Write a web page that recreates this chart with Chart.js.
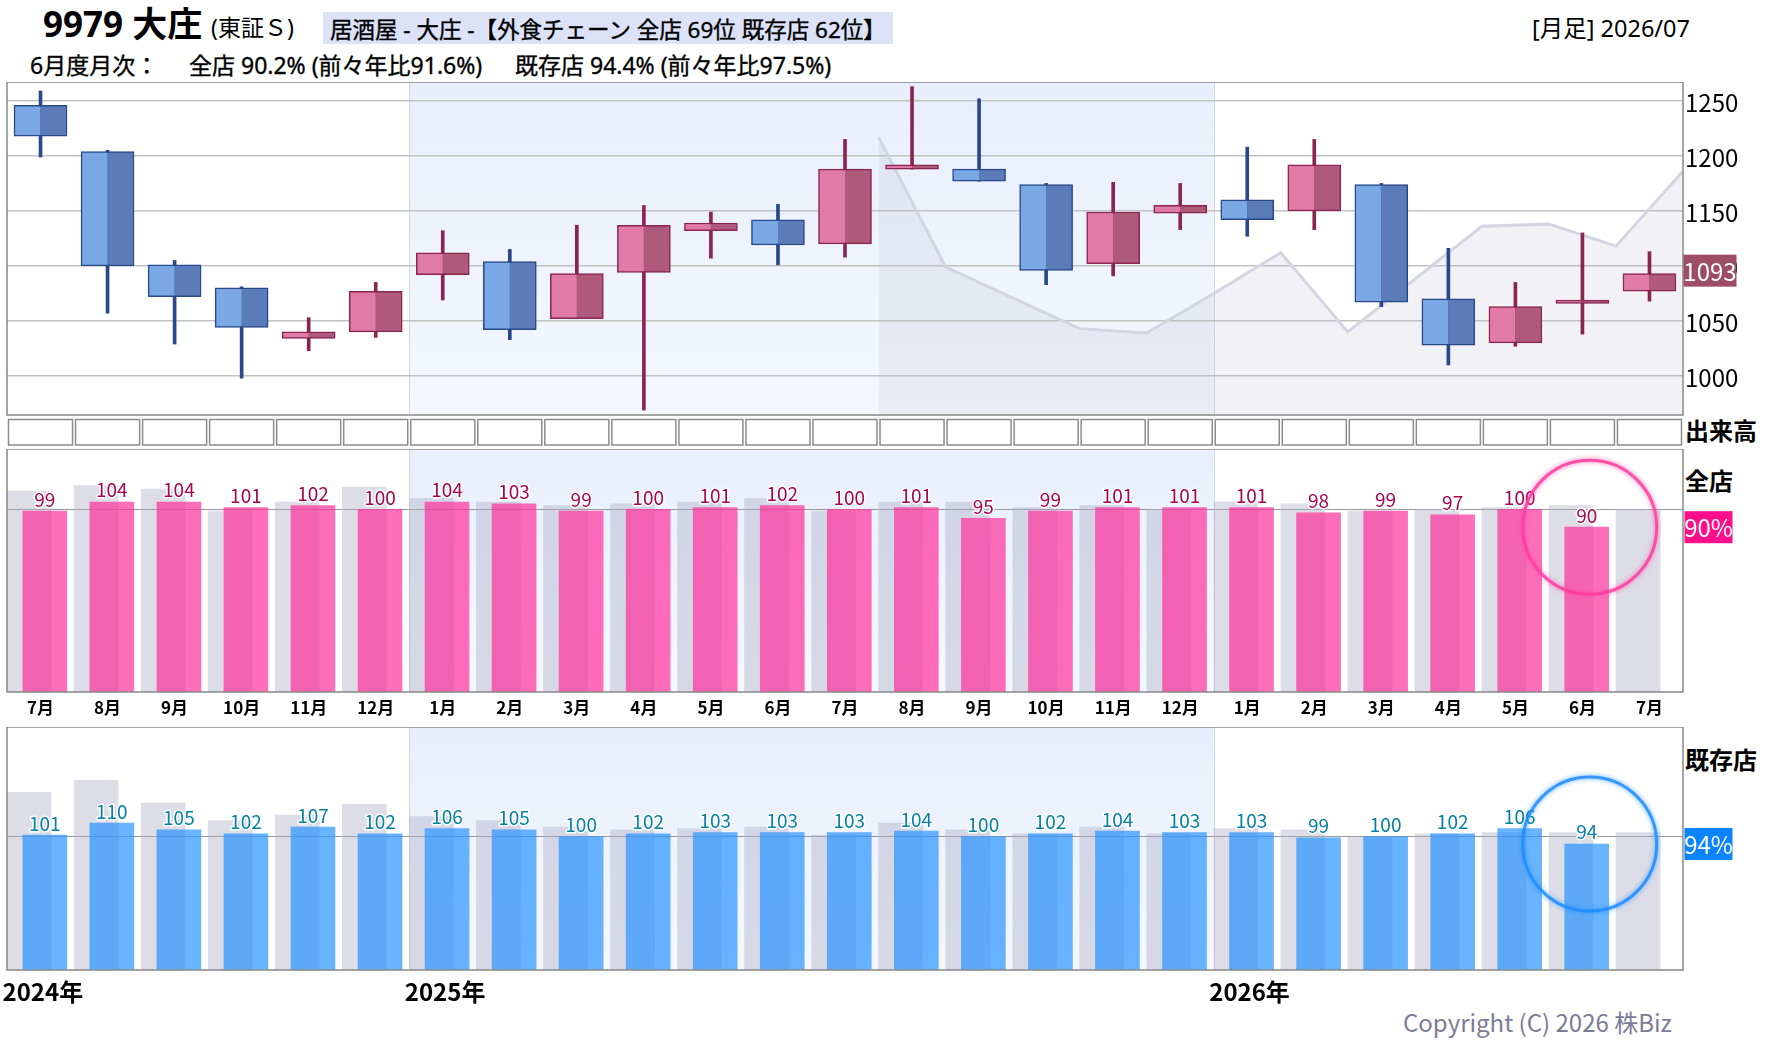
<!DOCTYPE html>
<html lang="ja">
<head>
<meta charset="utf-8">
<title>9979 大庄 月足</title>
<script src="https://cdn.jsdelivr.net/npm/chart.js@4.4.1/dist/chart.umd.min.js"></script>
<style>
  body { margin: 0; width: 1780px; height: 1054px; position: relative; overflow: hidden; background: #fff;
         font-family: "Noto Sans", "Noto Sans CJK JP", sans-serif; color: #000; }
  .t { position: absolute; white-space: nowrap; line-height: 1; }
  .jp { font-family: "Noto Sans CJK JP", sans-serif; }
  .heavy { -webkit-text-stroke: 0.35px #000; }
  canvas { position: absolute; left: 0; }
</style>
</head>
<body>
<div class="t" style="left:43px;top:6px;font-size:35px;font-weight:bold">9979 大庄</div>
<div class="t" style="left:211px;top:16px;font-size:23px">(東証Ｓ)</div>
<div class="t heavy" style="left:323px;top:12px;height:32px;line-height:36px;font-size:22.5px;background:#dce3f9;padding:0 7px">居酒屋 - 大庄 -【外食チェーン 全店 69位 既存店 62位】</div>
<div class="t" style="left:1532px;top:17px;font-size:23.5px">[月足] 2026/07</div>
<div class="t heavy" style="left:30px;top:54px;font-size:23px">6月度月次：</div>
<div class="t heavy" style="left:189px;top:54px;font-size:23px">全店 90.2% (前々年比91.6%)</div>
<div class="t heavy" style="left:515px;top:54px;font-size:23px">既存店 94.4% (前々年比97.5%)</div>
<div class="t jp" style="left:1685px;top:418px;font-size:24px;font-weight:bold">出来高</div>
<div class="t jp" style="left:1685px;top:468px;font-size:24px;font-weight:bold">全店</div>
<div class="t jp" style="left:1685px;top:747px;font-size:24px;font-weight:bold">既存店</div>
<div class="t jp" style="left:1403px;top:1010px;font-size:24px;color:#7c7c96">Copyright (C) 2026 株Biz</div>

<canvas id="candle" width="1780" height="366" style="top:82px"></canvas>
<canvas id="all" width="1780" height="271" style="top:449px"></canvas>
<canvas id="exist" width="1780" height="300" style="top:727px"></canvas>

<script>
// 月 (2024/07 〜 2026/07)
const months = ["7月", "8月", "9月", "10月", "11月", "12月",
  "1月", "2月", "3月", "4月", "5月", "6月", "7月", "8月", "9月", "10月", "11月", "12月",
  "1月", "2月", "3月", "4月", "5月", "6月", "7月"];
const years = ["2024年", "2025年", "2026年"];

// 月足 (始値・高値・安値・終値)
const open  = [1246, 1204, 1101, 1080, 1034, 1040, 1092, 1104, 1052, 1094, 1132, 1142, 1120,
  1188, 1188, 1174, 1102, 1148, 1160, 1150, 1174, 1070, 1030, 1066, 1077];
const high  = [1259, 1205, 1105, 1081, 1053, 1085, 1132, 1115, 1137, 1155, 1149, 1156, 1215,
  1263, 1252, 1175, 1176, 1175, 1208, 1215, 1175, 1116, 1085, 1130, 1113];
const low   = [1199, 1057, 1029, 998, 1023, 1035, 1069, 1033, 1052, 969, 1107, 1101, 1108,
  1188, 1177, 1083, 1091, 1133, 1127, 1133, 1063, 1010, 1027, 1038, 1068];
const close = [1218, 1100, 1072, 1044, 1040, 1077, 1112, 1042, 1093, 1137, 1139, 1119, 1188,
  1192, 1177, 1096, 1149, 1155, 1142, 1192, 1067, 1028, 1063, 1069, 1093];

// 薄いグレーの線 (8月2025の頭から)
const refFrom = 13;
const refLine = [1217, 1099, 1071, 1043, 1039, 1075, 1112, 1040, 1088, 1136, 1138, 1118, 1186];

// 月次 前年比 (%)
const allStores   = [99, 104, 104, 101, 102, 100, 104, 103, 99, 100, 101, 102, 100, 101, 95, 99,
  101, 101, 101, 98, 99, 97, 100, 90.2];
const allPrev     = [110, 113, 111, 99, 104, 112, 106, 104, 102, 103, 104, 106, 99, 104, 104, 101,
  102, 100, 104, 103, 99, 100, 101, 102, 100];
const existStores = [101, 110, 105, 102, 107, 102, 106, 105, 100, 102, 103, 103, 103, 104, 100, 102,
  104, 103, 103, 99, 100, 102, 106, 94.4];
const existPrev   = [133, 142, 125, 112, 116, 124, 115, 112, 107, 105, 106, 107, 101, 110, 105, 102,
  107, 102, 106, 105, 100, 102, 103, 103, 103];

const JP = '"Noto Sans CJK JP", sans-serif';
const yearStart = months.map((m, i) => (i === 0 || m === "1月") ? i : -1).filter(i => i >= 0);

// 2025年の帯
function band(chart) {
  const { ctx, chartArea: a, scales: { xl } } = chart;
  const x0 = xl.getPixelForValue(yearStart[1] - 0.5);
  const x1 = xl.getPixelForValue(yearStart[2] - 0.5);
  const g = ctx.createLinearGradient(0, a.top, 0, a.bottom);
  g.addColorStop(0, "#e8effc");
  g.addColorStop(1, "#f4f7fe");
  ctx.save();
  ctx.fillStyle = g;
  ctx.fillRect(x0, a.top, x1 - x0, a.bottom - a.top);
  ctx.strokeStyle = "#d2d6de";
  ctx.lineWidth = 1;
  for (const x of [x0, x1]) {
    ctx.beginPath();
    ctx.moveTo(Math.round(x) + 0.5, a.top);
    ctx.lineTo(Math.round(x) + 0.5, a.bottom);
    ctx.stroke();
  }
  ctx.restore();
}

function frame(chart) {
  const { ctx, chartArea: a } = chart;
  ctx.save();
  ctx.strokeStyle = "#888";
  ctx.lineWidth = 1.5;
  ctx.strokeRect(a.left, a.top, a.right - a.left, a.bottom - a.top);
  ctx.restore();
}

function tag(ctx, x, y, w, text, bg) {
  ctx.save();
  ctx.fillStyle = bg;
  ctx.fillRect(x, y - 16, w, 32);
  ctx.fillStyle = "#fff";
  ctx.font = "24px " + JP;
  ctx.textAlign = "center";
  ctx.textBaseline = "middle";
  ctx.fillText(text, x + w / 2, y + 1);
  ctx.restore();
}

// ---------- ローソク足 ----------
const BODY_W = 26.5;          // 実体の半分の幅 (px)
const HALF = 0.79 / 4;        // 半分の中心までのずれ (月単位)
const up = close.map((c, i) => c >= open[i]);
const pick = (a, b) => up.map(u => u ? a : b);
const bodies = open.map((o, i) => [o, close[i]]);
const wicks = low.map((l, i) => [l, high[i]]);
const edge = pick("#8a2550", "#28488a");

new Chart(document.getElementById("candle"), {
  type: "bar",
  data: {
    labels: months,
    datasets: [
      {
        data: bodies.map((b, i) => ({ x: i - HALF, y: b })),
        xAxisID: "xl",
        backgroundColor: pick("#e07ba8", "#79a8e4"),
        borderColor: edge,
        borderWidth: { top: 1.5, bottom: 1.5, left: 1.5, right: 0 },
        borderSkipped: false,
        barThickness: BODY_W,
        grouped: false,
        order: 1,
      },
      {
        data: bodies.map((b, i) => ({ x: i + HALF, y: b })),
        xAxisID: "xl",
        backgroundColor: pick("#b05a7b", "#5b7cb9"),
        borderColor: edge,
        borderWidth: { top: 1.5, bottom: 1.5, left: 0, right: 1.5 },
        borderSkipped: false,
        barThickness: BODY_W,
        grouped: false,
        order: 1,
      },
      {
        data: wicks.map((w, i) => ({ x: i, y: w })),
        xAxisID: "xl",
        backgroundColor: edge,
        barThickness: 3,
        grouped: false,
        order: 4,
      },
      {
        type: "line",
        data: refLine.map((v, j) => ({ x: refFrom + j - 0.5, y: v })),
        xAxisID: "xl",
        borderColor: "#d3d5e2",
        borderWidth: 3,
        pointRadius: 0,
        tension: 0,
        fill: "start",
        backgroundColor: "rgba(185,185,205,0.18)",
        order: 5,
      },
    ],
  },
  options: {
    responsive: false,
    animation: false,
    events: [],
    layout: { padding: { left: 7, right: 0, top: 0, bottom: 33 } },
    plugins: { legend: { display: false }, tooltip: { enabled: false } },
    scales: {
      xl: { type: "linear", display: false, offset: false, min: -0.5, max: 24.5 },
      y: {
        position: "right",
        min: 964.5,
        max: 1267.2,
        ticks: {
          stepSize: 50, includeBounds: false, font: { family: JP, size: 24 }, color: "#000",
          padding: 2, labelOffset: 2, callback: (v) => String(v),
        },
        grid: { color: "#c2c2c2", lineWidth: 1.5, drawTicks: false },
        border: { display: false },
        afterFit: (s) => { s.width = 97; s.paddingTop = 0; s.paddingBottom = 0; },
      },
    },
  },
  plugins: [{
    id: "candleDeco",
    beforeDraw: band,
    afterDraw(chart) {
      const { ctx, chartArea: a, scales: { xl, y } } = chart;
      frame(chart);
      // 出来高の枠
      ctx.save();
      ctx.strokeStyle = "#8c8c8c";
      ctx.lineWidth = 1.5;
      months.forEach((m, i) => {
        const x0 = xl.getPixelForValue(i - 0.5) + 1.5;
        const x1 = xl.getPixelForValue(i + 0.5) - 1.5;
        ctx.strokeRect(x0, a.bottom + 4.5, x1 - x0, 25.5);
      });
      ctx.restore();
      const last = close[close.length - 1];
      tag(ctx, a.right + 0.5, y.getPixelForValue(last) - 3, 53, String(last), "#9e4d66");
    },
  }],
});

// ---------- 月次の棒グラフ ----------
const PREV_SHIFT = -0.17;
const CUR_SHIFT = 0.064;

function panel(id, cur, prev, opt) {
  return new Chart(document.getElementById(id), {
    type: "bar",
    data: {
      labels: months,
      datasets: [
        {
          data: prev.map((v, i) => ({ x: i + PREV_SHIFT, y: v })),
          xAxisID: "xl",
          backgroundColor: "rgba(175,175,198,0.42)",
          barThickness: 44,
          grouped: false,
          order: 2,
        },
        {
          data: cur.map((v, i) => ({ x: i + CUR_SHIFT, y: v })),
          xAxisID: "xl",
          backgroundColor: opt.bar,
          barThickness: 44,
          grouped: false,
          order: 1,
        },
      ],
    },
    options: {
      responsive: false,
      animation: false,
      events: [],
      layout: { padding: { left: 7, right: 97, top: 0, bottom: opt.bottom } },
      plugins: { legend: { display: false }, tooltip: { enabled: false } },
      scales: {
        x: {
          type: "category",
          display: opt.monthAxis,
          offset: true,
          grid: { display: false, drawTicks: false },
          border: { display: false },
          ticks: { font: { family: JP, size: 17, weight: "bold" }, color: "#000", padding: 5, maxRotation: 0, autoSkip: false },
          afterFit: (s) => { s.height = opt.monthAxis ? 28 : 0; s.paddingLeft = 0; s.paddingRight = 0; },
        },
        xl: { type: "linear", display: false, offset: false, min: -0.5, max: 24.5 },
        y: { display: false, min: 0, max: opt.max },
      },
    },
    plugins: [{
      id: "panelDeco",
      beforeDraw: band,
      beforeDatasetsDraw(chart) {
        const { ctx, chartArea: a, scales: { y } } = chart;
        const y100 = Math.round(y.getPixelForValue(100)) + 0.5;
        ctx.save();
        ctx.strokeStyle = "#9a9a9a";
        ctx.lineWidth = 1;
        ctx.beginPath();
        ctx.moveTo(a.left, y100);
        ctx.lineTo(a.right, y100);
        ctx.stroke();
        ctx.restore();
      },
      afterDraw(chart) {
        const { ctx, chartArea: a, scales: { xl } } = chart;
        frame(chart);
        const els = chart.getDatasetMeta(1).data;
        ctx.save();
        ctx.font = "19px " + JP;
        ctx.textAlign = "center";
        ctx.textBaseline = "alphabetic";
        ctx.lineJoin = "round";
        els.forEach((el, i) => {
          const s = String(Math.round(cur[i]));
          ctx.strokeStyle = "#fff";
          ctx.lineWidth = 3;
          ctx.strokeText(s, el.x, el.y - 4.5);
          ctx.fillStyle = opt.text;
          ctx.fillText(s, el.x, el.y - 4.5);
        });
        // 最新月の丸
        const el = els[els.length - 1];
        ctx.beginPath();
        ctx.arc(el.x + 3, el.y, 67, 0, Math.PI * 2);
        ctx.strokeStyle = opt.ring;
        ctx.lineWidth = 3;
        ctx.shadowColor = opt.ring;
        ctx.shadowBlur = 5;
        ctx.stroke();
        ctx.restore();
        tag(ctx, a.right + 1.5, el.y, 48, Math.round(cur[cur.length - 1]) + "%", opt.tag);
        if (opt.yearLabels) {
          ctx.save();
          ctx.font = "bold 24px " + JP;
          ctx.fillStyle = "#000";
          ctx.textAlign = "left";
          ctx.textBaseline = "middle";
          yearStart.forEach((i, k) => {
            ctx.fillText(years[k], xl.getPixelForValue(i - 0.5) - 4.5, a.bottom + 22);
          });
          ctx.restore();
        }
      },
    }],
  });
}

panel("all", allStores, allPrev, {
  bar: "rgba(255,48,155,0.7)", text: "#a5064f", ring: "rgba(255,60,160,0.85)", tag: "#ff0e8c",
  max: 133, bottom: 0, monthAxis: true, yearLabels: false,
});
panel("exist", existStores, existPrev, {
  bar: "rgba(42,148,255,0.7)", text: "#0780a5", ring: "rgba(30,140,255,0.85)", tag: "#0a84ff",
  max: 182, bottom: 57, monthAxis: false, yearLabels: true,
});
</script>
</body>
</html>
